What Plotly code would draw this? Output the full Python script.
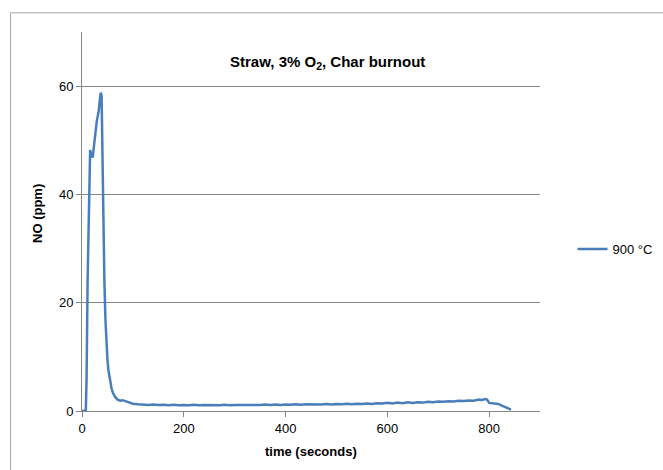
import plotly.graph_objects as go

# time (s) and NO (ppm)
time_s = [0, 4, 7.5, 9, 11, 13, 14.5, 16, 17.5, 19, 21, 23, 25, 27, 29, 31, 33, 35, 37, 38.5,
          40, 42, 44, 46, 48, 50, 52, 55, 58, 61, 65, 70, 75, 80, 85, 90, 95, 100,
          110, 120, 130, 140, 150, 160, 170, 180, 190, 200, 210, 220, 230, 240, 250,
          260, 270, 280, 290, 300, 310, 320, 330, 340, 350, 360, 370, 380, 390, 400,
          410, 420, 430, 440, 450, 460, 470, 480, 490, 500, 510, 520, 530, 540, 550,
          560, 570, 580, 590, 600, 610, 620, 630, 640, 650, 660, 670, 680, 690, 700,
          710, 720, 730, 740, 750, 760, 770, 780, 786, 792, 796, 800, 805, 810, 818,
          825, 832, 838, 843]
no_ppm = [0, 0, 0.2, 6, 24, 37, 45, 48.2, 47.6, 47.0, 46.8, 48.5, 50.5, 52.0, 53.5, 54.5, 55.5, 57.5, 58.8, 58.2,
          47, 33, 24, 17, 12.5, 9.5, 7.5, 5.6, 4.2, 3.3, 2.6, 2.1, 1.9, 2.0, 1.8, 1.6, 1.4, 1.35,
          1.25, 1.2, 1.1, 1.2, 1.1, 1.15, 1.05, 1.15, 1.05, 1.1, 1.05, 1.15, 1.05, 1.1, 1.05,
          1.1, 1.05, 1.15, 1.05, 1.1, 1.1, 1.15, 1.05, 1.15, 1.1, 1.2, 1.1, 1.2, 1.1, 1.2,
          1.15, 1.25, 1.15, 1.25, 1.2, 1.25, 1.2, 1.3, 1.2, 1.3, 1.25, 1.35, 1.25, 1.35, 1.3,
          1.4, 1.3, 1.45, 1.4, 1.5, 1.4, 1.55, 1.45, 1.6, 1.5, 1.6, 1.55, 1.7, 1.6, 1.75,
          1.7, 1.8, 1.75, 1.9, 1.85, 1.95, 1.9, 2.1, 2.05, 2.2, 2.1, 1.5, 1.45, 1.4, 1.3,
          1.0, 0.7, 0.45, 0.25]

x_ticks = [0, 200, 400, 600, 800]
y_ticks = [0, 20, 40, 60]
series_name = "900 °C"
title_text = "<b>Straw, 3% O<sub>2</sub>, Char burnout</b>"
x_title = "<b>time (seconds)</b>"
y_title = "<b>NO (ppm)</b>"

grey = "#868686"
fig = go.Figure()
fig.add_trace(go.Scatter(x=time_s, y=no_ppm, mode="lines", name=series_name,
                         line=dict(color="#4A7EBB", width=2.5)))

fig.update_layout(
    width=663, height=470,
    margin=dict(l=82, r=123, t=32, b=59, autoexpand=False),
    paper_bgcolor="white", plot_bgcolor="white",
    font=dict(family="Liberation Sans, Arial, sans-serif", size=13, color="black"),
    showlegend=True,
    legend=dict(x=1.071, y=0.427, xanchor="left", yanchor="middle",
                font=dict(size=13), bgcolor="rgba(0,0,0,0)"),
    annotations=[
        dict(text=title_text, x=0.535, y=0.92, xref="paper", yref="paper",
             showarrow=False, font=dict(size=15), xanchor="center", yanchor="middle"),
        dict(text=x_title, x=0.5, y=-0.107, xref="paper", yref="paper",
             showarrow=False, font=dict(size=13), xanchor="center", yanchor="middle"),
        dict(text=y_title, x=-0.096, y=0.52, xref="paper", yref="paper", textangle=-90,
             showarrow=False, font=dict(size=13), xanchor="center", yanchor="middle"),
    ],
    shapes=[dict(type="rect", xref="paper", yref="paper",
                 x0=-0.156, y0=1.0506, x1=1.5, y1=-0.4,
                 line=dict(color="#A6A6A6", width=1))],
)
fig.update_xaxes(range=[0, 900], tickvals=x_ticks, showgrid=False,
                 showline=True, linecolor=grey, linewidth=1,
                 ticks="outside", ticklen=5, tickcolor=grey, zeroline=False,
                 tickfont=dict(size=13))
fig.update_yaxes(range=[0, 70], tickvals=y_ticks, showgrid=True, gridcolor=grey,
                 gridwidth=1, showline=True, linecolor=grey, linewidth=1,
                 ticks="outside", ticklen=5, tickcolor=grey, zeroline=False,
                 tickfont=dict(size=13))

fig.write_html("out.html")
